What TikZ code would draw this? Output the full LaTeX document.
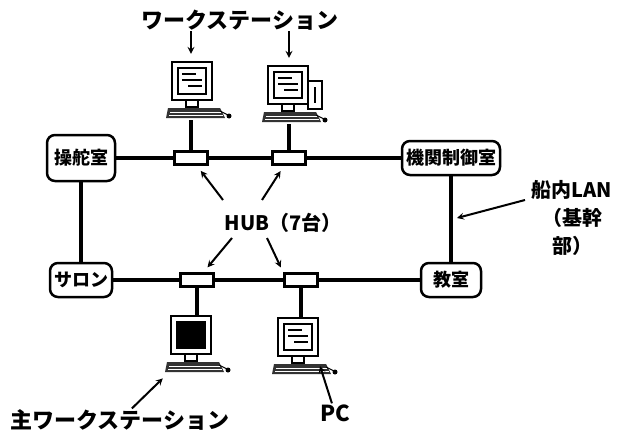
\documentclass[tikz,border=0pt]{standalone}
\usepackage{fontspec}
\setmainfont{Noto Sans CJK JP}

\begin{document}
\begin{tikzpicture}[x=1pt,y=-1pt,>=stealth,
    room/.style={draw,rounded corners=8pt,line width=2.5pt,fill=white,inner sep=3pt,minimum height=34pt,font=\fontsize{18}{20}\selectfont\bfseries},
    hub/.style={draw,fill=white,line width=3pt,minimum width=33pt,minimum height=13pt,inner sep=0pt},
    pcbox/.style={minimum width=64pt,minimum height=58pt,inner sep=0pt},
    txt/.style={font=\fontsize{22}{28}\selectfont\bfseries,inner sep=1pt},
    cable/.style={line width=4.5pt},
    pointer/.style={->,line width=2pt},
    computer/.pic={
        \draw[line width=2.2pt,fill=white] (-26,-29) rectangle (14,9);
        \draw[line width=1.4pt,pic actions] (-20,-23) rectangle (8,3);
        \draw[line width=2pt] (-16,-17) -- (-2,-17) (-16,-11) -- (4,-11) (-10,-5) -- (4,-5);
        \draw[line width=1.5pt,fill=white] (-12,9) rectangle (0,16);
        \fill[black!80] (-30,17) -- (22,17) -- (27,27) -- (-32,27) -- cycle;
        \draw[white,line width=0.8pt] (-28,21) -- (23,21) (-29,24) -- (25,24);
        \draw[line width=1pt] (22,20) -- (30,24);
        \fill (31,25) circle (2.5pt);
    },
    tower/.pic={
        \draw[line width=2pt,fill=white] (14,-14) rectangle (28,14);
        \draw[line width=1.5pt] (21,-8) -- (21,8);
    }]

    \useasboundingbox (0,0) rectangle (626,436);

    \node[room,minimum width=68pt,minimum height=46pt] (sotai) at (81,158) {操舵室};
    \node[room,minimum width=98pt] (kikan) at (451,158) {機関制御室};
    \node[room,minimum width=62pt] (salon) at (81,280) {サロン};
    \node[room,minimum width=60pt] (kyoshitsu) at (451,280) {教室};

    \node[hub] (h1) at (191,158) {};
    \node[hub] (h2) at (289,158) {};
    \node[hub] (h3) at (197,280) {};
    \node[hub] (h4) at (301,280) {};

    \node[pcbox] (ws1) at (198,91) {};
    \pic at (ws1) {computer};
    \node[pcbox] (ws2) at (294,95) {};
    \pic at (ws2) {tower};
    \pic at (ws2) {computer};
    \node[pcbox] (ws3) at (197,345) {};
    \pic[fill=black] at (ws3) {computer};
    \node[pcbox] (pc) at (304,347) {};
    \pic at (pc) {computer};

    \node[txt] (wslbl) at (240,20) {ワークステーション};
    \node[txt,font=\fontsize{20}{28}\selectfont\bfseries] (hublbl) at (283,223) {HUB（7台）};
    \node[txt,font=\fontsize{20}{28}\selectfont\bfseries,align=center] (lanlbl) at (572,218) {船内LAN\\（基幹\\部）};
    \node[txt] (mainlbl) at (120,420) {主ワークステーション};
    \node[txt] (pclbl) at (335,413) {PC};

    \path[cable]
        (sotai) edge (h1)
        (h1) edge (h2)
        (h2) edge (kikan)
        (salon) edge (h3)
        (h3) edge (h4)
        (h4) edge (kyoshitsu)
        (sotai) edge (salon)
        (kikan) edge (kyoshitsu)
        (h1) edge (h1 |- ws1.south)
        (h2) edge (h2 |- ws2.south)
        (h3) edge (h3 |- ws3.north)
        (h4) edge (h4 |- pc.north)
        ;

    \coordinate (tl) at (223,200);
    \coordinate (tr) at (262,200);
    \coordinate (bl) at (232,238);
    \coordinate (br) at (267,238);
    \coordinate (lantail) at (525,200);
    \coordinate (lanhit) at (457,218);
    \coordinate (pctip) at (320,366);

    \draw[pointer,shorten >=6pt] (tl) -- (h1);
    \draw[pointer,shorten >=6pt] (tr) -- (h2);
    \draw[pointer,shorten >=6pt] (bl) -- (h3);
    \draw[pointer,shorten >=5pt] (br) -- (h4.north west);
    \draw[pointer,shorten >=8pt] (wslbl.south -| h1) -- (h1 |- ws1.north);
    \draw[pointer,shorten >=8pt] (wslbl.south -| h2) -- (h2 |- ws2.north);
    \draw[pointer] (lantail) -- (lanhit);
    \draw[pointer,shorten >=6pt] (mainlbl) -- (ws3);
    \draw[pointer] (pclbl) -- (pctip);
\end{tikzpicture}
\end{document}
